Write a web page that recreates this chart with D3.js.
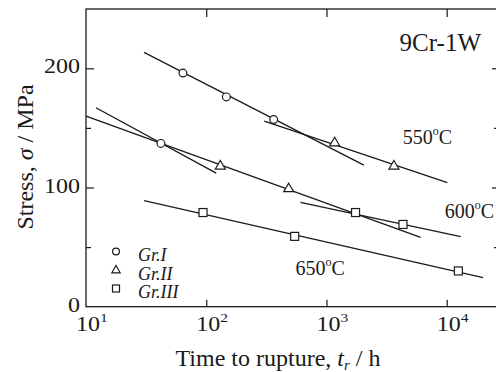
<!DOCTYPE html>
<html><head><meta charset="utf-8">
<script src="https://cdn.jsdelivr.net/npm/d3@7"></script>
<style>body{margin:0;background:#fff} svg{display:block}</style>
</head><body><svg id="c" width="496" height="372"></svg>
<script>
// ---- data ----
const xTicks = [10, 100, 1000, 10000];
const xTickExp = ["1", "2", "3", "4"];
const yTicksMajor = [0, 100, 200];
const yTicksMinor = [50, 150];

// Gr.I (circles)
const grI_t = [64, 147, 364, 42];
const grI_s = [196, 176, 157, 137];
// Gr.II (triangles)
const grII_t = [1170, 3640, 131, 485];
const grII_s = [137.5, 118, 118, 99];
// Gr.III (squares)
const grIII_t = [1745, 4330, 94, 544, 12500];
const grIII_s = [79, 69, 79, 59, 30];

// regression lines: [t_start, s_start, t_end, s_end]
const fit550_I   = [30.4, 213.3, 2046, 118.8];
const fit550_II  = [304, 155.7, 10130, 104];
const fit600_A   = [10, 159.9, 6070, 58.2];
const fit600_B   = [12.1, 166.9, 121, 112.1];
const fit600_C   = [607, 87.5, 13090, 58.7];
const fit650     = [30.4, 88.9, 20070, 24.3];
const fits = [fit550_I, fit550_II, fit600_A, fit600_B, fit600_C, fit650];

const tempLabels = ["550", "600", "650"];
const tempPos_t = [4300, 9630, 552];
const tempPos_s = [136.5, 74.8, 26.6];
const legendNames = ["Gr.I", "Gr.II", "Gr.III"];

// ---- drawing ----
const svg = d3.select("#c");
const ink = "#1a1a1a";
const serif = "'Liberation Serif','Times New Roman',serif";
const L = 86, R = 499, T = 9, B = 306.7;

const x = d3.scaleLog().domain([10, 10000]).range([L, 446.7]);
const y = d3.scaleLinear().domain([0, 200]).range([B, 68.3]);

// frame
svg.append("rect").attr("x", L).attr("y", T).attr("width", R - L).attr("height", B - T)
  .attr("fill", "none").attr("stroke", ink).attr("stroke-width", 1.3);

// axes ticks (inward)
function styleAxis(g){ g.select(".domain").remove(); g.selectAll("line").attr("stroke", ink).attr("stroke-width",1.2); g.selectAll("text").remove(); }
svg.append("g").attr("transform", `translate(0,${B})`)
  .call(d3.axisBottom(x).tickValues(xTicks.slice(1)).tickSize(-7).tickFormat("")).call(styleAxis);
svg.append("g").attr("transform", `translate(0,${T})`)
  .call(d3.axisTop(x).tickValues(xTicks.slice(1)).tickSize(-8).tickFormat("")).call(styleAxis);
svg.append("g").attr("transform", `translate(${L},0)`)
  .call(d3.axisLeft(y).tickValues(yTicksMajor.slice(1)).tickSize(-8).tickFormat("")).call(styleAxis);
svg.append("g").attr("transform", `translate(${L},0)`)
  .call(d3.axisLeft(y).tickValues(yTicksMinor).tickSize(-5).tickFormat("")).call(styleAxis);
svg.append("g").attr("transform", `translate(${R},0)`)
  .call(d3.axisRight(y).tickValues(yTicksMajor.slice(1)).tickSize(-7).tickFormat("")).call(styleAxis);
svg.append("g").attr("transform", `translate(${R},0)`)
  .call(d3.axisRight(y).tickValues(yTicksMinor).tickSize(-5).tickFormat("")).call(styleAxis);

// y tick labels
svg.append("g").selectAll("text").data(yTicksMajor).join("text")
  .attr("transform", d => `translate(80,${y(d) + 5}) scale(1.2,1)`)
  .attr("text-anchor", "end").attr("font-family", serif).attr("font-size", 20).attr("fill", ink)
  .text(d => d);

// x tick labels with superscripts
const xl = svg.append("g").selectAll("text").data(xTicks).join("text")
  .attr("transform", d => `translate(${x(d) - 10},331) scale(1.2,1)`)
  .attr("font-family", serif).attr("font-size", 20).attr("fill", ink);
xl.append("tspan").text("10");
xl.append("tspan").attr("font-size", 13).attr("dy", -9).text((d, i) => xTickExp[i]);

// axis titles
const xt = svg.append("text").attr("x", 278).attr("y", 366).attr("text-anchor", "middle")
  .attr("font-family", serif).attr("font-size", 24).attr("fill", ink);
xt.append("tspan").text("Time to rupture, ");
xt.append("tspan").attr("font-style", "italic").text("t");
xt.append("tspan").attr("font-style", "italic").attr("font-size", 15).attr("dy", 4).text("r");
xt.append("tspan").attr("dy", -4).text(" / h");

const yt = svg.append("text").attr("transform", "translate(33,157) rotate(-90)").attr("text-anchor", "middle")
  .attr("font-family", serif).attr("font-size", 24).attr("fill", ink);
yt.append("tspan").text("Stress, ");
yt.append("tspan").attr("font-style", "italic").text("σ");
yt.append("tspan").text(" / MPa");

// fit lines
svg.append("g").selectAll("line").data(fits).join("line")
  .attr("x1", d => x(d[0])).attr("y1", d => y(d[1]))
  .attr("x2", d => x(d[2])).attr("y2", d => y(d[3]))
  .attr("stroke", ink).attr("stroke-width", 1.3);

// markers
const mk = {fill: "#fff", stroke: ink, sw: 1.2};
svg.append("g").selectAll("circle").data(grI_t.map((t, i) => [t, grI_s[i]])).join("circle")
  .attr("cx", d => x(d[0])).attr("cy", d => y(d[1])).attr("r", 3.9)
  .attr("fill", mk.fill).attr("stroke", mk.stroke).attr("stroke-width", mk.sw);
const tri = "M0,-5.5L5,3L-5,3Z";
svg.append("g").selectAll("path").data(grII_t.map((t, i) => [t, grII_s[i]])).join("path")
  .attr("transform", d => `translate(${x(d[0])},${y(d[1])})`).attr("d", tri)
  .attr("fill", mk.fill).attr("stroke", mk.stroke).attr("stroke-width", mk.sw);
svg.append("g").selectAll("rect").data(grIII_t.map((t, i) => [t, grIII_s[i]])).join("rect")
  .attr("x", d => x(d[0]) - 4).attr("y", d => y(d[1]) - 4).attr("width", 8).attr("height", 8)
  .attr("fill", mk.fill).attr("stroke", mk.stroke).attr("stroke-width", mk.sw);

// temperature labels
const tl = svg.append("g").selectAll("text").data(tempLabels).join("text")
  .attr("x", (d, i) => x(tempPos_t[i])).attr("y", (d, i) => y(tempPos_s[i]))
  .attr("font-family", serif).attr("font-size", 20).attr("fill", ink);
tl.append("tspan").text(d => d);
tl.append("tspan").attr("font-size", 12).attr("dy", -9).text("o");
tl.append("tspan").attr("dy", 9).text("C");

// alloy label
svg.append("text").attr("x", 481).attr("y", 51).attr("text-anchor", "end")
  .attr("font-family", serif).attr("font-size", 25).attr("fill", ink).text("9Cr-1W");

// legend
const lg = svg.append("g").attr("transform", "translate(116,251.5)");
const rows = lg.selectAll("g").data(legendNames).join("g").attr("transform", (d, i) => `translate(0,${i * 18.5})`);
rows.filter((d, i) => i === 0).append("circle").attr("r", 3.4)
  .attr("fill", "#fff").attr("stroke", ink).attr("stroke-width", 1.2);
rows.filter((d, i) => i === 1).append("path").attr("d", "M0,-4.5L4.2,2.8L-4.2,2.8Z")
  .attr("fill", "#fff").attr("stroke", ink).attr("stroke-width", 1.2);
rows.filter((d, i) => i === 2).append("rect").attr("x", -3.5).attr("y", -3.5).attr("width", 7).attr("height", 7)
  .attr("fill", "#fff").attr("stroke", ink).attr("stroke-width", 1.2);
rows.append("text").attr("x", 22).attr("y", 9.5).attr("font-family", serif).attr("font-style", "italic")
  .attr("font-size", 18).attr("fill", ink).text(d => d);
</script></body></html>
